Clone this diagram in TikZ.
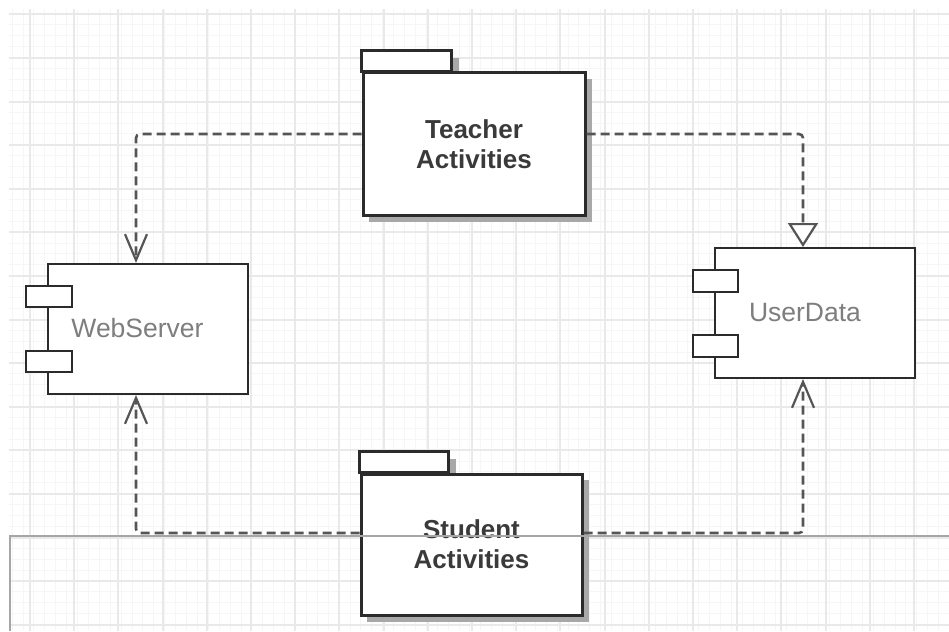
\documentclass[tikz,border=0pt]{standalone}
\usepackage{fontspec}
\setmainfont{Liberation Sans}
\usetikzlibrary{arrows.meta,calc}

\definecolor{linec}{HTML}{555555}
\definecolor{boxc}{HTML}{2B2B2B}
\definecolor{pkgtext}{HTML}{3A3A3A}
\definecolor{comptext}{HTML}{7E7E7E}
\definecolor{shadowc}{HTML}{A8A8A8}
\definecolor{gridmajor}{HTML}{E9E9E9}
\definecolor{gridminor}{HTML}{F6F6F6}

\tikzset{
  pkgbody/.style={draw=boxc, line width=3pt, fill=white, minimum width=222pt,
    minimum height=142pt, inner sep=0pt, align=center, text=pkgtext,
    font=\bfseries\fontsize{26}{30}\selectfont},
  pkgtab/.style={draw=boxc, line width=3pt, fill=white},
  compbox/.style={draw=boxc, line width=2pt, fill=white, minimum width=200pt,
    minimum height=130pt, inner sep=0pt},
  comptext/.style={text=comptext, font=\fontsize{26.5}{30}\selectfont, inner sep=0pt},
  portbox/.style={draw=boxc, line width=2pt, fill=white},
  dep/.style={draw=linec, line width=2.6pt, dash pattern=on 9pt off 5pt,
    rounded corners=4pt},
  openhead/.style={-{Straight Barb[length=26pt,width=22pt,line width=2.2pt]}},
  realizehead/.style={-{Triangle[open,length=24pt,width=30pt,line width=2.2pt,fill=white]}},
  shade/.style={fill=shadowc},
  artifact/.style={draw=gray!70, line width=1.6pt}
}

\begin{document}
\begin{tikzpicture}[x=1pt,y=-1pt]
  \useasboundingbox (0,0) rectangle (949,631);
  \fill[white] (0,0) rectangle (949,631);

  % background grid
  \foreach \gx in {12,22.9,...,949} \draw[gridminor, line width=0.8pt] (\gx,9) -- (\gx,631);
  \foreach \gy in {14,24.9,...,631} \draw[gridminor, line width=0.8pt] (9,\gy) -- (949,\gy);
  \foreach \gx in {30,74.2,...,949} \draw[gridmajor, line width=2pt] (\gx,9) -- (\gx,631);
  \foreach \gy in {14.4,58,...,631} \draw[gridmajor, line width=2pt] (9,\gy) -- (949,\gy);

  % shadows of the two packages
  \fill[shade] (369,79) rectangle (592,222);
  \fill[shade] (453,58) rectangle (459,73);
  \fill[shade] (367,480) rectangle (589,622);
  \fill[shade] (450,459) rectangle (456,474);

  % packages
  \node[pkgbody] (T) at (474,144) {Teacher\\Activities};
  \node[pkgbody, minimum width=221pt, minimum height=141pt] (S) at (471.5,544.5) {Student\\Activities};
  \draw[pkgtab] (T.north west) rectangle ++(90,-21);
  \draw[pkgtab] (S.north west) rectangle ++(89,-21);

  % components
  \node[compbox] (W) at (148,329) {};
  \node[comptext] at (137.5,328) {WebServer};
  \node[portbox, minimum width=46pt, minimum height=21pt, inner sep=0pt] (W1) at (49,296.5) {};
  \node[portbox, minimum width=46pt, minimum height=21pt, inner sep=0pt] (W2) at (49,361.5) {};

  \node[compbox] (U) at (815,313) {};
  \node[comptext] at (805,313) {UserData};
  \node[portbox, minimum width=45pt, minimum height=22pt, inner sep=0pt] (U1) at (715.5,281) {};
  \node[portbox, minimum width=45pt, minimum height=22pt, inner sep=0pt] (U2) at (715.5,346) {};

  % connector end points on the package borders
  \coordinate (tw) at ([yshift=10pt]T.west);
  \coordinate (te) at ([yshift=10pt]T.east);
  \coordinate (sw) at ([yshift=11.5pt]S.west);
  \coordinate (se) at ([yshift=11.5pt]S.east);

  % dependencies
  \draw[dep, openhead] (tw) -| ([xshift=-12pt]W.north);
  \draw[dep, realizehead] (te) -| ([xshift=-12pt]U.north);
  \draw[dep, openhead] (sw) -| ([xshift=-12pt]W.south);
  \draw[dep, openhead] (se) -| ([xshift=-12pt]U.south);

  % frame edge crossing the lower part
  \draw[artifact] (10,631) -- (10,536) -- (949,536);
\end{tikzpicture}
\end{document}
